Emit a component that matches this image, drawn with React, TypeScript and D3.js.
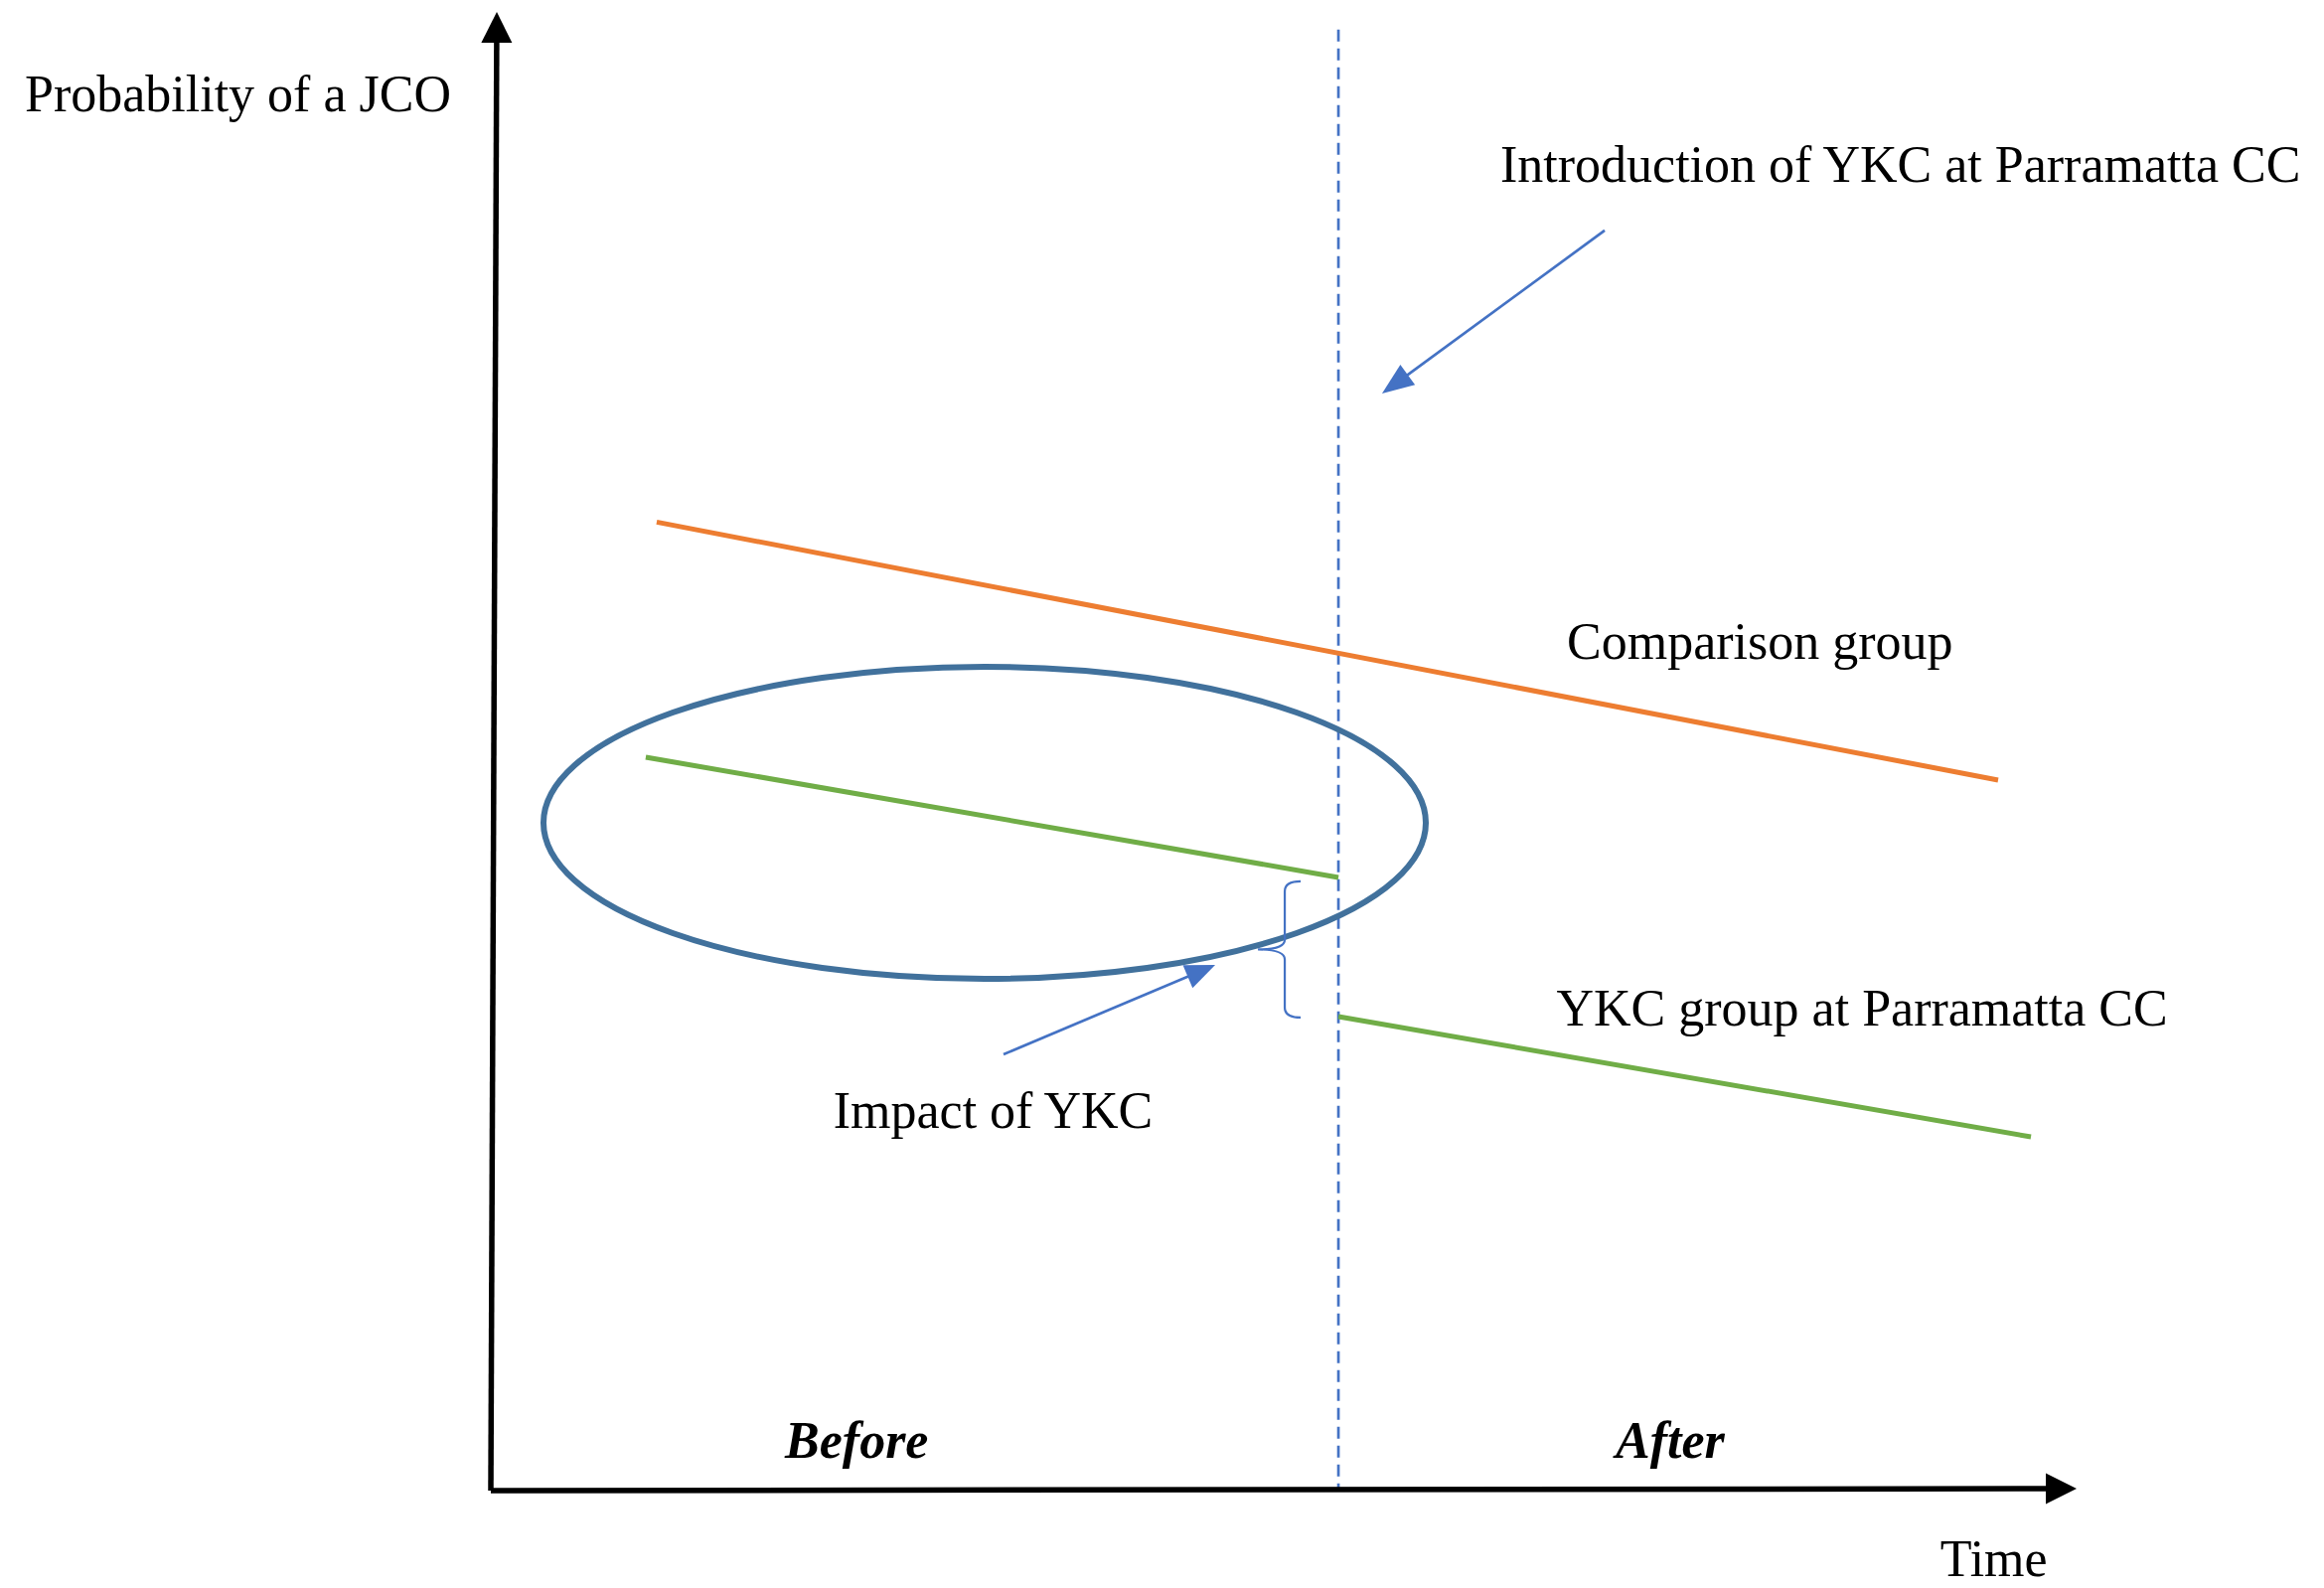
import React from "react";
import * as d3 from "d3";

// Conceptual axes: time 0..100, probability 0..100
const timeDomain = [0, 100];
const probDomain = [0, 100];
const interventionTime = 53.45;

// Series (time, probability)
const comparisonTimes = [10.46, 95.05];
const comparisonValues = [65.5, 48.05];
const ykcBeforeTimes = [9.77, 53.45];
const ykcBeforeValues = [49.6, 41.47];
const ykcAfterTimes = [53.45, 97.12];
const ykcAfterValues = [32.06, 23.92];

// Highlight ellipse (center time, center prob, radius in time, radius in prob)
const ellipseCenter = [31.14, 45.16];
const ellipseRadii = [27.82, 10.55];

// Annotation arrows [fromTime, fromProb, toTime, toProb]
const introArrow = [70.24, 85.22, 56.2, 74.19];
const impactArrow = [32.33, 29.5, 45.68, 35.55];

// Labels
const labelTexts = [
  "Introduction of YKC at Parramatta CC",
  "Comparison group",
  "YKC group at Parramatta CC",
  "Impact of YKC",
];
const labelTimes = [63.66, 67.86, 67.2, 21.6];
const labelProbs = [88.5, 56.25, 31.45, 24.53];
const periodLabels = ["Before", "After"];
const periodTimes = [18.55, 70.93];
const yAxisTitle = "Probability of a JCO";
const xAxisTitle = "Time";

const W = 2339;
const H = 1598;
const FONT = "'Liberation Serif', 'Times New Roman', serif";
const BLUE = "#4472C4";

function arrow(x1: number, y1: number, x2: number, y2: number, len: number, wid: number) {
  const dx = x2 - x1;
  const dy = y2 - y1;
  const d = Math.sqrt(dx * dx + dy * dy);
  const ux = dx / d;
  const uy = dy / d;
  const bx = x2 - ux * len;
  const by = y2 - uy * len;
  const px = -uy * (wid / 2);
  const py = ux * (wid / 2);
  return {
    line: { x1, y1, x2: bx + ux * 2, y2: by + uy * 2 },
    head: `${x2},${y2} ${bx + px},${by + py} ${bx - px},${by - py}`,
  };
}

export default function App() {
  const x = d3.scaleLinear().domain(timeDomain).range([494, 2090]);
  const y = d3.scaleLinear().domain(probDomain).range([1500, 12]);
  const line = d3
    .line<[number, number]>()
    .x((d) => x(d[0]))
    .y((d) => y(d[1]));

  const comp = comparisonTimes.map((t, i) => [t, comparisonValues[i]] as [number, number]);
  const before = ykcBeforeTimes.map((t, i) => [t, ykcBeforeValues[i]] as [number, number]);
  const after = ykcAfterTimes.map((t, i) => [t, ykcAfterValues[i]] as [number, number]);

  const xAx = arrow(x(0), y(0), x(100), y(0) - 2, 31, 31);
  const yAx = arrow(x(0), y(0), x(0) + 6, y(100), 31, 31);
  const a1 = arrow(x(introArrow[0]), y(introArrow[1]), x(introArrow[2]), y(introArrow[3]), 32, 25);
  const a2 = arrow(x(impactArrow[0]), y(impactArrow[1]), x(impactArrow[2]), y(impactArrow[3]), 30, 25);

  const ix = x(interventionTime);
  const bTop = y(ykcBeforeValues[1]) + 4;
  const bBot = y(ykcAfterValues[0]) + 1;
  const bMid = (bTop + bBot) / 2;
  const bx = ix - 54;
  const bracket = `M${bx + 16},${bTop} Q${bx},${bTop} ${bx},${bTop + 10} L${bx},${bMid - 10} Q${bx},${bMid} ${bx - 27},${bMid} Q${bx},${bMid} ${bx},${bMid + 10} L${bx},${bBot - 10} Q${bx},${bBot} ${bx + 16},${bBot}`;

  return (
    <svg
      width={W}
      height={H}
      style={{ position: "absolute", left: 0, top: 0, background: "#fff" }}
      fontFamily={FONT}
    >
      <rect width={W} height={H} fill="#fff" />
      {/* intervention dashed line */}
      <line x1={ix} x2={ix} y1={y(98.8)} y2={y(0)} stroke={BLUE} strokeWidth={2.7} strokeDasharray="12 7" />

      {/* series */}
      <path d={line(comp) || ""} stroke="#ED7D31" strokeWidth={5} fill="none" />
      <path d={line(before) || ""} stroke="#70AD47" strokeWidth={5} fill="none" />
      <path d={line(after) || ""} stroke="#70AD47" strokeWidth={5} fill="none" />

      {/* ellipse */}
      <ellipse
        cx={x(ellipseCenter[0])}
        cy={y(ellipseCenter[1])}
        rx={x(ellipseRadii[0]) - x(0)}
        ry={y(0) - y(ellipseRadii[1])}
        fill="none"
        stroke="#41719C"
        strokeWidth={6}
      />

      {/* bracket */}
      <path d={bracket} fill="none" stroke={BLUE} strokeWidth={2.2} />

      {/* annotation arrows */}
      <line {...a1.line} stroke={BLUE} strokeWidth={2.7} />
      <polygon points={a1.head} fill={BLUE} />
      <line {...a2.line} stroke={BLUE} strokeWidth={2.7} />
      <polygon points={a2.head} fill={BLUE} />

      {/* axes */}
      <line {...xAx.line} stroke="#000" strokeWidth={5.5} />
      <polygon points={xAx.head} fill="#000" />
      <line {...yAx.line} stroke="#000" strokeWidth={5.5} />
      <polygon points={yAx.head} fill="#000" />

      {/* labels */}
      {labelTexts.map((t, i) => (
        <text key={t} x={x(labelTimes[i])} y={y(labelProbs[i])} fontSize={52} fill="#000">
          {t}
        </text>
      ))}
      {periodLabels.map((t, i) => (
        <text
          key={t}
          x={x(periodTimes[i])}
          y={y(2.22)}
          fontSize={52}
          fontWeight="bold"
          fontStyle="italic"
          fill="#000"
        >
          {t}
        </text>
      ))}
      <text x={25} y={112} fontSize={52} fill="#000">
        {yAxisTitle}
      </text>
      <text x={x(91.4)} y={1586} fontSize={52} fill="#000">
        {xAxisTitle}
      </text>
    </svg>
  );
}
